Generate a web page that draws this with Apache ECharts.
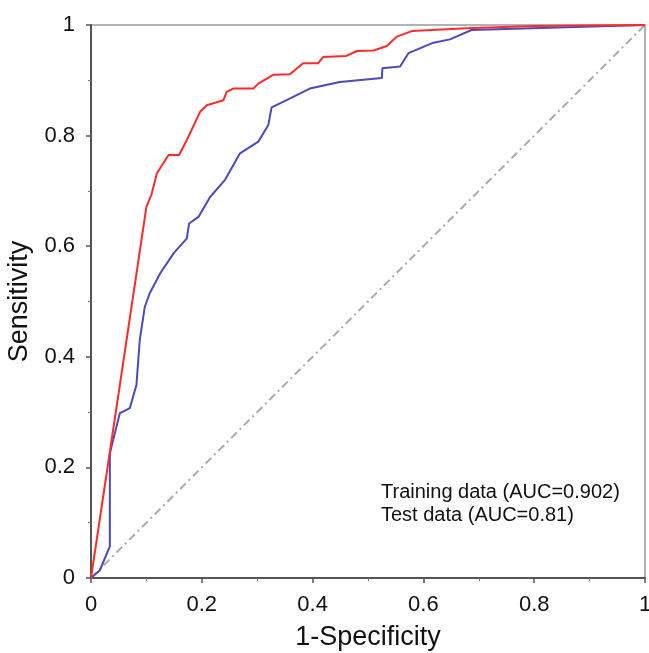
<!DOCTYPE html>
<html>
<head>
<meta charset="utf-8">
<script src="https://cdn.jsdelivr.net/npm/echarts@6/dist/echarts.min.js"></script>
<style>
  html, body { margin: 0; padding: 0; background: #fff; }
  #chart { width: 649px; height: 653px; }
</style>
</head>
<body>
<div id="chart"></div>
<script>
// ROC points: [1-specificity, sensitivity]
var trainRoc = [
  [0, 0], [0.05, 0.335], [0.1, 0.671], [0.109, 0.693], [0.119, 0.732],
  [0.14, 0.765], [0.159, 0.765], [0.173, 0.792], [0.197, 0.843], [0.209, 0.855],
  [0.239, 0.864], [0.245, 0.879], [0.257, 0.885], [0.293, 0.885], [0.302, 0.894],
  [0.329, 0.910], [0.359, 0.911], [0.383, 0.931], [0.410, 0.931], [0.419, 0.942],
  [0.461, 0.944], [0.480, 0.953], [0.510, 0.954], [0.534, 0.962], [0.552, 0.979],
  [0.579, 0.989], [0.678, 0.994], [0.80, 0.998], [1, 1]
];
var testRoc = [
  [0, 0], [0.016, 0.014], [0.034, 0.057], [0.034, 0.225], [0.052, 0.298],
  [0.058, 0.301], [0.070, 0.307], [0.076, 0.328], [0.082, 0.349], [0.088, 0.43],
  [0.097, 0.49], [0.106, 0.515], [0.125, 0.551], [0.149, 0.587], [0.173, 0.614],
  [0.177, 0.641], [0.194, 0.653], [0.215, 0.689], [0.242, 0.720], [0.269, 0.768],
  [0.302, 0.789], [0.320, 0.819], [0.326, 0.851], [0.353, 0.864], [0.395, 0.885],
  [0.449, 0.897], [0.525, 0.904], [0.526, 0.922], [0.558, 0.925], [0.573, 0.949],
  [0.618, 0.968], [0.648, 0.974], [0.687, 0.991], [1, 1]
];
var refLine = [[0, 0], [1, 1]];
var legendText = ['Training data (AUC=0.902)', 'Test data (AUC=0.81)'];

var font = '"Liberation Sans", Arial, sans-serif';
var chart = echarts.init(document.getElementById('chart'));

function fmt(v) {
  return (v === 0 || v === 1) ? String(v) : v.toFixed(1);
}

var axisCommon = {
  type: 'value',
  min: 0,
  max: 1,
  interval: 0.2,
  axisLine: { show: true, lineStyle: { color: '#555', width: 2 } },
  axisTick: { show: true, inside: false, length: 5, lineStyle: { color: '#555', width: 1.5 } },
  minorTick: { show: true, splitNumber: 2, length: 3, lineStyle: { color: '#777', width: 1 } },
  splitLine: { show: false },
  axisLabel: { color: '#111', fontSize: 22, fontFamily: font, formatter: fmt },
  nameTextStyle: { color: '#111', fontSize: 27, fontFamily: font }
};

var option = {
  animation: false,
  backgroundColor: '#fff',
  grid: {
    left: 91, right: 4, top: 25, bottom: 75,
    outerBoundsMode: 'none',
    containLabel: false,
    show: true, borderColor: '#999', borderWidth: 1.5
  },
  xAxis: Object.assign({}, axisCommon, {
    name: '1-Specificity',
    nameLocation: 'middle',
    nameGap: 46,
    axisLabel: Object.assign({}, axisCommon.axisLabel, { margin: 16 })
  }),
  yAxis: Object.assign({}, axisCommon, {
    name: 'Sensitivity',
    nameLocation: 'middle',
    nameGap: 54,
    axisLabel: Object.assign({}, axisCommon.axisLabel, { margin: 16 })
  }),
  series: [
    {
      name: 'ref',
      type: 'line',
      data: refLine,
      showSymbol: false,
      lineStyle: { color: '#aaa', width: 2, type: [8, 4, 2, 4] },
      z: 1
    },
    {
      name: 'Test data',
      type: 'line',
      data: testRoc,
      showSymbol: false,
      lineStyle: { color: '#4a4ac0', width: 2 },
      z: 2
    },
    {
      name: 'Training data',
      type: 'line',
      data: trainRoc,
      showSymbol: false,
      lineStyle: { color: '#ff2a2a', width: 2 },
      z: 3
    }
  ],
  graphic: [
    {
      type: 'text', left: 381, top: 482,
      style: { text: legendText[0], fontSize: 20, fontFamily: font, fill: '#111' }
    },
    {
      type: 'text', left: 381, top: 505,
      style: { text: legendText[1], fontSize: 20, fontFamily: font, fill: '#111' }
    }
  ]
};

chart.setOption(option);
</script>
</body>
</html>
